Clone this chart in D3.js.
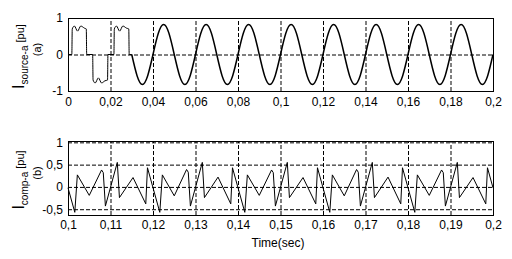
<!DOCTYPE html>
<html>
<head>
<meta charset="utf-8">
<script src="https://cdn.jsdelivr.net/npm/d3@7"></script>
<style>
body { margin: 0; background: #fff; }
text { font-family: "Liberation Sans", Arial, sans-serif; fill: #000; }
</style>
</head>
<body>
<div id="chart"></div>
<script>
// ---- data ----
// (a) source current, start-up part: square pulses with a notch
const srcStartTime = [0, 0.0018, 0.0020, 0.0030, 0.0045, 0.0060, 0.0078, 0.0086, 0.0088,
    0.0116, 0.0118, 0.0128, 0.0143, 0.0158, 0.0174, 0.0186, 0.0188,
    0.0216, 0.0218, 0.0228, 0.0243, 0.0258, 0.0276, 0.0286, 0.0288, 0.0300];
const srcStartValue = [0, 0, 0.70, 0.78, 0.64, 0.78, 0.72, 0.70, 0,
    0, -0.70, -0.78, -0.64, -0.78, -0.72, -0.70, 0,
    0, 0.70, 0.78, 0.64, 0.78, 0.72, 0.70, 0, 0];

// (a) source current after compensation, sampled every 2.5 ms from 0.03 s
const srcSteadyStart = 0.03;
const srcSteadyStep = 0.0025;
const srcSteadyValue = [
    0, -0.58, -0.82, -0.58, 0, 0.58, 0.82, 0.58,
    0, -0.58, -0.82, -0.58, 0, 0.58, 0.82, 0.58,
    0, -0.58, -0.82, -0.58, 0, 0.58, 0.82, 0.58,
    0, -0.58, -0.82, -0.58, 0, 0.58, 0.82, 0.58,
    0, -0.58, -0.82, -0.58, 0, 0.58, 0.82, 0.58,
    0, -0.58, -0.82, -0.58, 0, 0.58, 0.82, 0.58,
    0, -0.58, -0.82, -0.58, 0, 0.58, 0.82, 0.58,
    0, -0.58, -0.82, -0.58, 0, 0.58, 0.82, 0.58,
    0, -0.58, -0.82, -0.58, 0];

// (b) compensating current
const compTime = [0.1000,
    0.1016, 0.1022, 0.1050, 0.1079, 0.1083, 0.1088, 0.1116, 0.1121, 0.1153, 0.1183, 0.1187,
    0.1216, 0.1222, 0.1250, 0.1279, 0.1283, 0.1288, 0.1316, 0.1321, 0.1353, 0.1383, 0.1387,
    0.1416, 0.1422, 0.1450, 0.1479, 0.1483, 0.1488, 0.1516, 0.1521, 0.1553, 0.1583, 0.1587,
    0.1616, 0.1622, 0.1650, 0.1679, 0.1683, 0.1688, 0.1716, 0.1721, 0.1753, 0.1783, 0.1787,
    0.1816, 0.1822, 0.1850, 0.1879, 0.1883, 0.1888, 0.1916, 0.1921, 0.1953, 0.1983, 0.1987,
    0.2000];
const compValue = [-0.02,
    -0.57, 0.27, -0.19, 0.38, 0.32, -0.43, 0.55, -0.24, 0.21, -0.38, 0.43,
    -0.57, 0.27, -0.20, 0.39, 0.33, -0.43, 0.55, -0.24, 0.22, -0.38, 0.43,
    -0.57, 0.27, -0.19, 0.38, 0.32, -0.43, 0.55, -0.24, 0.21, -0.38, 0.43,
    -0.57, 0.27, -0.20, 0.39, 0.33, -0.43, 0.55, -0.24, 0.22, -0.38, 0.43,
    -0.57, 0.27, -0.19, 0.38, 0.32, -0.43, 0.55, -0.24, 0.21, -0.38, 0.43,
    -0.02];

// ticks
const srcTicksX = [0, 0.02, 0.04, 0.06, 0.08, 0.1, 0.12, 0.14, 0.16, 0.18, 0.2];
const srcTicksY = [-1, 0, 1];
const compTicksX = [0.1, 0.11, 0.12, 0.13, 0.14, 0.15, 0.16, 0.17, 0.18, 0.19, 0.2];
const compTicksY = [-0.5, 0, 0.5, 1];

const svg = d3.select('#chart')
    .append('svg')
    .attr('width', 512)
    .attr('height', 259);

const commaFmt = d => String(+d.toFixed(3)).replace('.', ',');

// one panel: frame, dashed grid, tick labels, y label
function drawPanel(opts) {
    const x = d3.scaleLinear().domain(opts.xDomain).range([68, 493]);
    const y = d3.scaleLinear().domain(opts.yDomain).range([opts.bottom, opts.top]);
    const h = opts.bottom - opts.top;
    const g = svg.append('g');

    // vertical grid + x labels
    const xAxis = g.append('g')
        .attr('transform', `translate(0,${opts.bottom})`)
        .call(d3.axisBottom(x).tickValues(opts.ticksX).tickFormat(commaFmt)
            .tickSize(-h).tickPadding(opts.xPad));
    xAxis.select('.domain').remove();
    xAxis.selectAll('line').attr('stroke', '#000').attr('stroke-dasharray', '4,2');
    xAxis.selectAll('text').style('font-size', '12px').attr('fill', '#000');

    // horizontal grid + y labels
    const yAxis = g.append('g')
        .attr('transform', 'translate(68,0)')
        .call(d3.axisLeft(y).tickValues(opts.ticksY).tickFormat(commaFmt)
            .tickSize(-425).tickPadding(5));
    yAxis.select('.domain').remove();
    yAxis.selectAll('line').attr('stroke', '#000').attr('stroke-dasharray', '4,2');
    yAxis.selectAll('text').style('font-size', '12px').attr('fill', '#000');

    // frame
    g.append('rect')
        .attr('x', 68.5).attr('y', opts.top + 0.5)
        .attr('width', 425).attr('height', h)
        .attr('fill', 'none').attr('stroke', '#000').attr('stroke-width', 1);

    // y label, two lines, rotated
    const cy = (opts.top + opts.bottom) / 2;
    const lab = g.append('text')
        .attr('transform', `translate(24,${cy + 2}) rotate(-90)`)
        .attr('text-anchor', 'middle');
    lab.append('tspan').style('font-size', '16px').text('I');
    lab.append('tspan').style('font-size', '10px').attr('dy', 3.5).text(opts.sub);
    lab.append('tspan').style('font-size', '11px').attr('dy', -3.5).text(' [pu]');

    g.append('text')
        .attr('transform', `translate(41,${cy - 5}) rotate(-90)`)
        .attr('text-anchor', 'middle')
        .style('font-size', '11px')
        .text(opts.tag);

    return { x, y, g };
}

// ---- panel (a) ----
const pa = drawPanel({
    xDomain: [0, 0.2], yDomain: [-1, 1], top: 18, bottom: 91,
    ticksX: srcTicksX, ticksY: srcTicksY, xPad: 6.5,
    sub: 'source-a', tag: '(a)'
});

const srcStart = srcStartTime.map((t, i) => ({ t, v: srcStartValue[i] }));
const srcSteady = srcSteadyValue.map((v, i) => ({ t: srcSteadyStart + i * srcSteadyStep, v }));

pa.g.append('path')
    .datum(srcStart)
    .attr('d', d3.line().x(d => pa.x(d.t)).y(d => pa.y(d.v)).curve(d3.curveMonotoneX))
    .attr('fill', 'none').attr('stroke', '#000').attr('stroke-width', 1);

pa.g.append('path')
    .datum(srcSteady)
    .attr('d', d3.line().x(d => pa.x(d.t)).y(d => pa.y(d.v)).curve(d3.curveNatural))
    .attr('fill', 'none').attr('stroke', '#000').attr('stroke-width', 1.5);

// ---- panel (b) ----
const pb = drawPanel({
    xDomain: [0.1, 0.2], yDomain: [-0.63, 1.03], top: 141, bottom: 215,
    ticksX: compTicksX, ticksY: compTicksY, xPad: 5.5,
    sub: 'comp-a', tag: '(b)'
});

const comp = compTime.map((t, i) => ({ t, v: compValue[i] }));

pb.g.append('path')
    .datum(comp)
    .attr('d', d3.line().x(d => pb.x(d.t)).y(d => pb.y(d.v)))
    .attr('fill', 'none').attr('stroke', '#000').attr('stroke-width', 1);

// x axis title
svg.append('text')
    .attr('x', 278).attr('y', 247)
    .attr('text-anchor', 'middle')
    .style('font-size', '12px')
    .text('Time(sec)');
</script>
</body>
</html>
